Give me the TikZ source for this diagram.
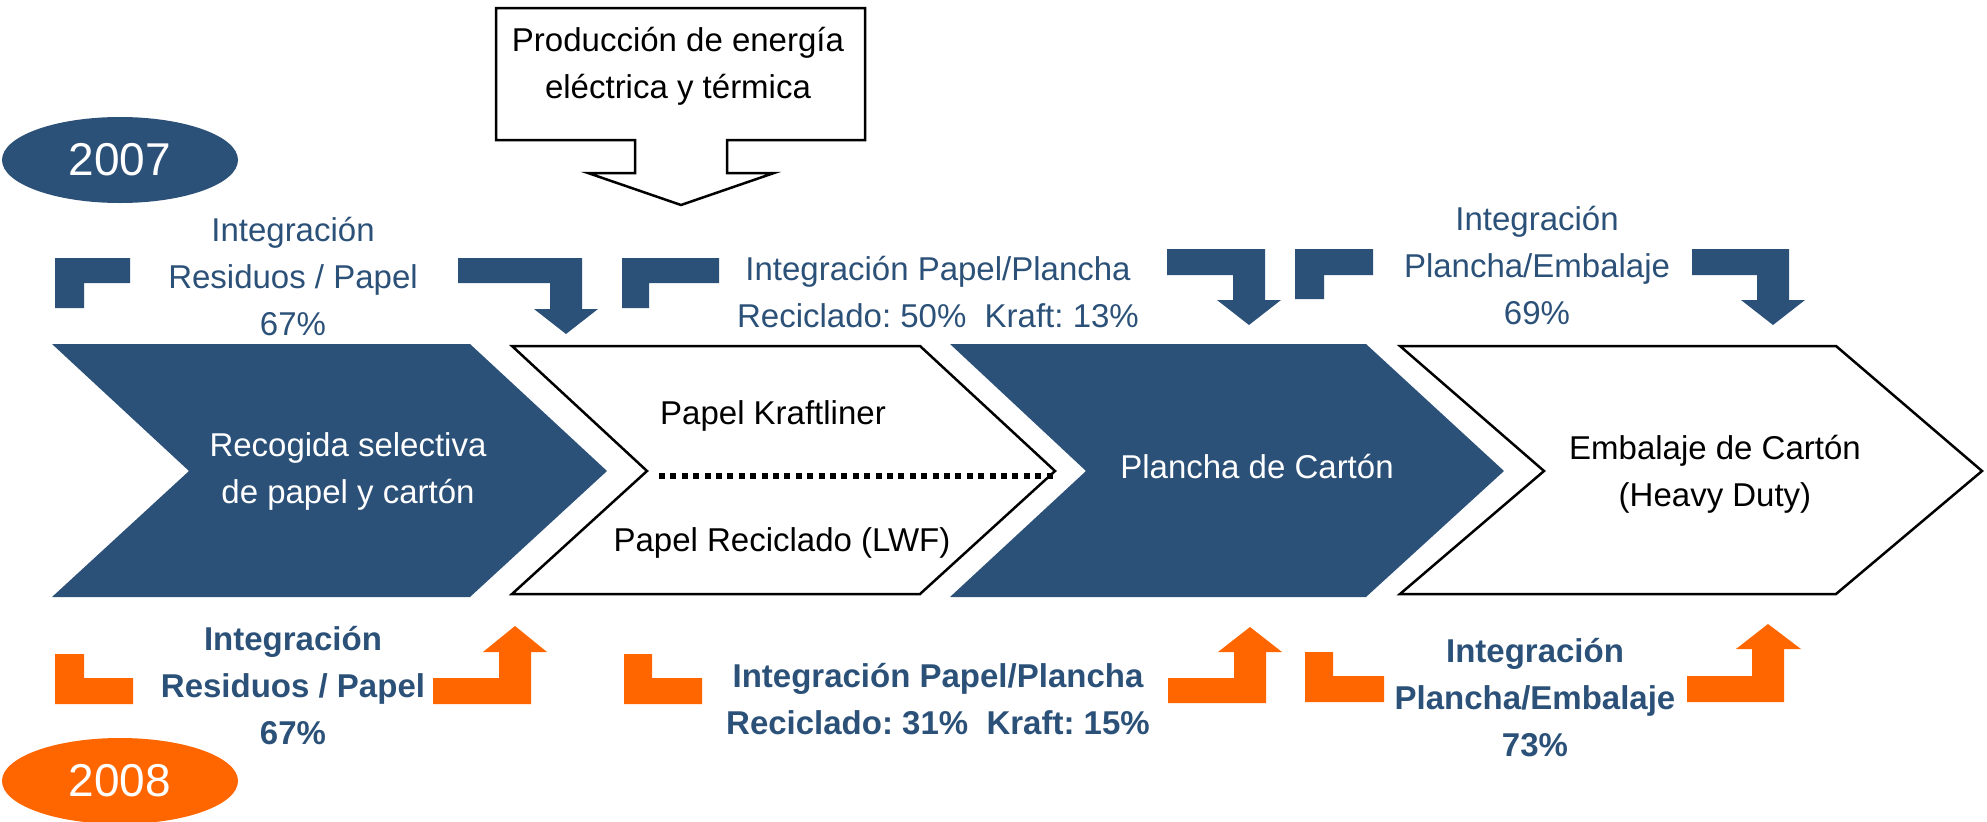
\documentclass[tikz,border=0pt]{standalone}
\usepackage{fontspec}
\setmainfont{Liberation Sans}
\frenchspacing
\definecolor{navy}{HTML}{2C5179}
\definecolor{orng}{HTML}{FF6600}
\tikzset{
  lbl/.style={align=center,inner sep=0pt,font=\fontsize{33}{47}\selectfont},
  bluetxt/.style={lbl,text=navy},
  boldtxt/.style={lbl,text=navy,font=\fontsize{33}{47}\selectfont\bfseries},
  blackbox/.style={draw=black,line width=2.5pt,fill=white,line join=miter},
  yearbubble/.style={ellipse,minimum width=236pt,minimum height=86pt,inner sep=0pt,text=white,font=\fontsize{46}{50}\selectfont}
}
\usetikzlibrary{shapes.geometric}
\begin{document}
\begin{tikzpicture}[x=1pt,y=-1pt]
\useasboundingbox (0,0) rectangle (1987,822);

% production arrow box
\draw[blackbox] (496,8) -- (865,8) -- (865,140) -- (727,140) -- (727,173) -- (774,173) -- (681,205) -- (588,173) -- (635,173) -- (635,140) -- (496,140) -- cycle;
\node[lbl] (prod) at (678,66) {Producción de energía\\eléctrica y térmica};

% year bubbles
\node[yearbubble,fill=navy] (y2007) at (120,160) {2007};
\node[yearbubble,fill=orng] (y2008) at (120,781) {2008};

% chevrons
\fill[navy] (52,344) -- (470,344) -- (607,471) -- (470,597) -- (52,597) -- (189,471) -- cycle;
\draw[blackbox] (512,346) -- (920,346) -- (1055,471) -- (920,594) -- (512,594) -- (647,471) -- cycle;
\fill[navy] (950,344) -- (1366,344) -- (1504,471) -- (1366,597) -- (950,597) -- (1086,471) -- cycle;
\draw[blackbox] (1400,346) -- (1836,346) -- (1982,471) -- (1836,594) -- (1400,594) -- (1544,471) -- cycle;

\node[lbl,text=white] (recog) at (348,471) {Recogida selectiva\\de papel y cartón};
\node[lbl] (kraft) at (773,416) {Papel Kraftliner};
\node[lbl] (recic) at (782,543) {Papel Reciclado (LWF)};
\coordinate (dotL) at (659,476);
\coordinate (dotR) at (1054,476);
\draw[line width=6pt,dash pattern=on 6pt off 5.4pt] (dotL) -- (dotR);
\node[lbl,text=white] (plancha) at (1257,467) {Plancha de Cartón};
\node[lbl] (embal) at (1715,474) {Embalaje de Cartón\\(Heavy Duty)};

% top (2007) bent arrows
\fill[navy] (55,258) -- (130,258) -- (130,283) -- (84,283) -- (84,308) -- (55,308) -- cycle;
\fill[navy] (458,258) -- (582,258) -- (582,309) -- (598,309) -- (566,334) -- (534,309) -- (550,309) -- (550,283) -- (458,283) -- cycle;
\fill[navy] (622,258) -- (719,258) -- (719,283) -- (649,283) -- (649,308) -- (622,308) -- cycle;
\fill[navy] (1167,249) -- (1265,249) -- (1265,300) -- (1281,300) -- (1249,325) -- (1217,300) -- (1233,300) -- (1233,275) -- (1167,275) -- cycle;
\fill[navy] (1295,249) -- (1373,249) -- (1373,275) -- (1324,275) -- (1324,299) -- (1295,299) -- cycle;
\fill[navy] (1692,249) -- (1789,249) -- (1789,300) -- (1805,300) -- (1773,325) -- (1741,300) -- (1757,300) -- (1757,275) -- (1692,275) -- cycle;

\node[bluetxt] (t1) at (293,277) {Integración\\Residuos / Papel\\67\%};
\node[bluetxt] (t2) at (938,292) {Integración Papel/Plancha\\Reciclado: 50\%~~Kraft: 13\%};
\node[bluetxt] (t3) at (1537,266) {Integración\\Plancha/Embalaje\\69\%};

% bottom (2008) bent arrows
\fill[orng] (55,654) -- (84,654) -- (84,678) -- (133,678) -- (133,704) -- (55,704) -- cycle;
\fill[orng] (433,678) -- (499,678) -- (499,652) -- (483,652) -- (515,626) -- (547,652) -- (531,652) -- (531,704) -- (433,704) -- cycle;
\fill[orng] (624,654) -- (652,654) -- (652,678) -- (702,678) -- (702,704) -- (624,704) -- cycle;
\fill[orng] (1168,678) -- (1234,678) -- (1234,652) -- (1218,652) -- (1250,627) -- (1282,652) -- (1266,652) -- (1266,703) -- (1168,703) -- cycle;
\fill[orng] (1305,652) -- (1333,652) -- (1333,676) -- (1384,676) -- (1384,702) -- (1305,702) -- cycle;
\fill[orng] (1687,676) -- (1752,676) -- (1752,649) -- (1736,649) -- (1768,624) -- (1801,649) -- (1784,649) -- (1784,702) -- (1687,702) -- cycle;

\node[boldtxt] (b1) at (293,686) {Integración\\Residuos / Papel\\67\%};
\node[boldtxt] (b2) at (938,699) {Integración Papel/Plancha\\Reciclado: 31\%~~Kraft: 15\%};
\node[boldtxt] (b3) at (1535,698) {Integración\\Plancha/Embalaje\\73\%};
\end{tikzpicture}
\end{document}
